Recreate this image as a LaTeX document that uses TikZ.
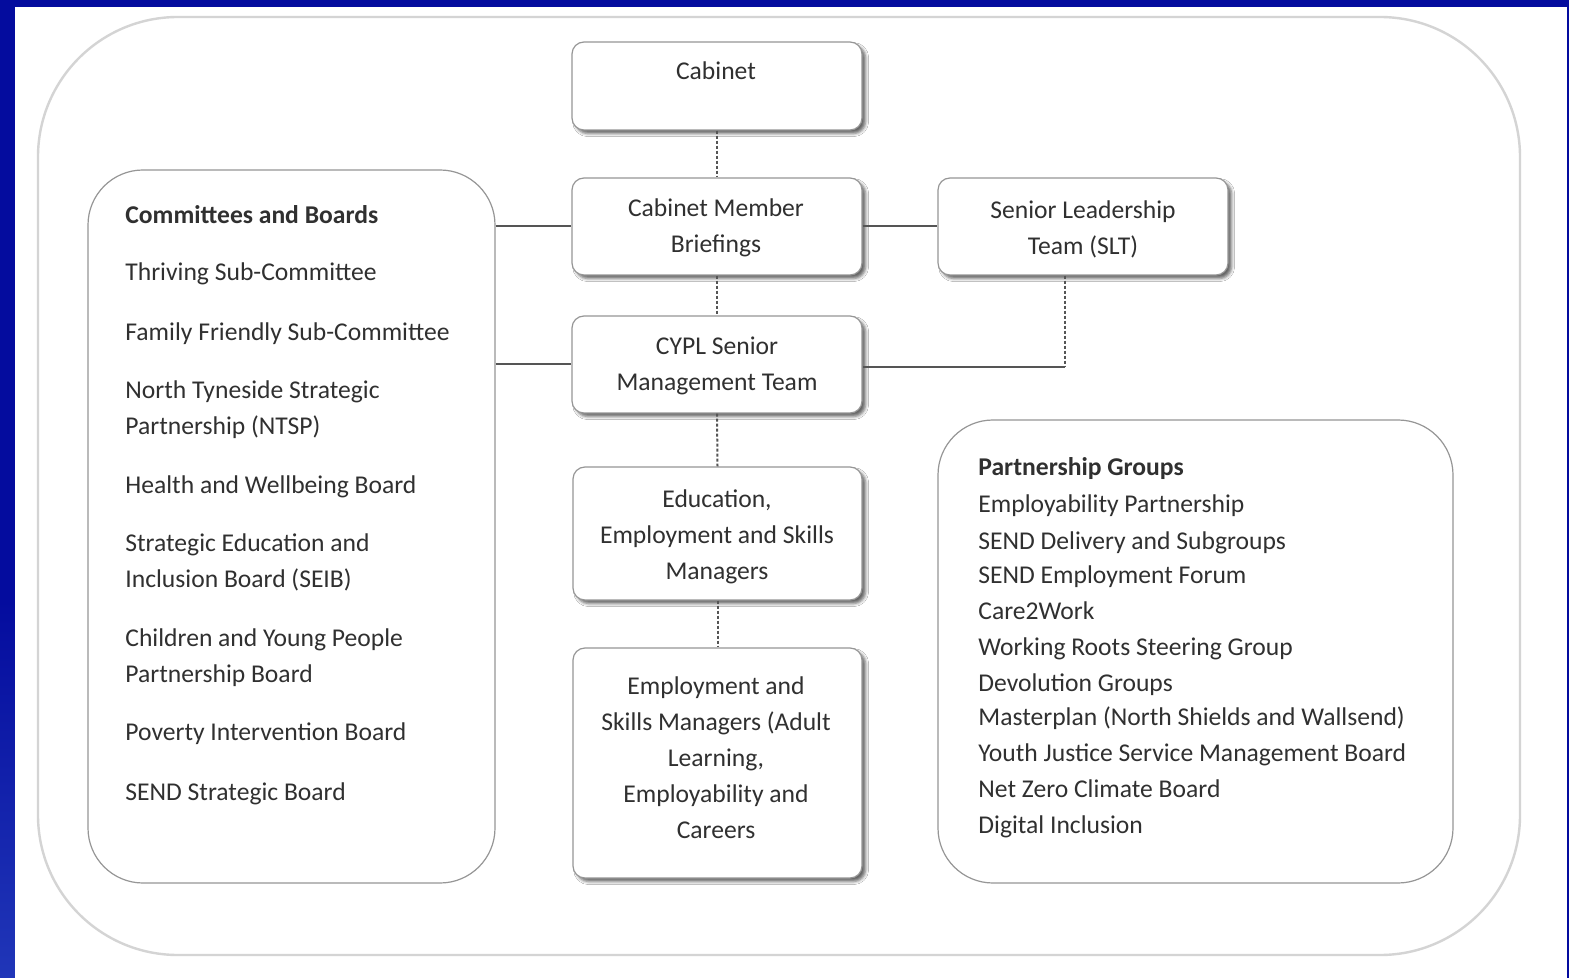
\documentclass[tikz,border=0pt]{standalone}
\usepackage{fontspec}
\setmainfont{Carlito}
\usetikzlibrary{shadows.blur}
\definecolor{bgblue}{RGB}{4,12,158}
\definecolor{bgblue2}{RGB}{32,54,184}
\definecolor{txt}{RGB}{48,48,48}
\definecolor{outerline}{RGB}{212,212,212}
\definecolor{boxline}{RGB}{150,150,150}
\definecolor{connline}{RGB}{85,85,85}
\begin{document}
\begin{tikzpicture}[x=0.5pt,y=-0.5pt,
  box/.style={draw=boxline, line width=0.6pt, fill=white, rounded corners=6pt, inner sep=0pt,
    blur shadow={shadow xshift=1.8pt, shadow yshift=-1.8pt, shadow blur radius=1.5pt, shadow opacity=60}},
  bigbox/.style={draw=boxline, line width=0.6pt, rounded corners=27.5pt, inner sep=0pt},
  boxtext/.style={text=txt, font=\fontsize{12.8}{18}\selectfont, align=center, inner sep=0pt},
  listtext/.style={text=txt, font=\fontsize{12.8}{18}\selectfont, anchor=mid west, inner sep=0pt},
  conn/.style={draw=connline, line width=1pt},
  dconn/.style={draw=connline, line width=1pt, dash pattern=on 1.5pt off 1pt},
]
\useasboundingbox (0,0) rectangle (1569,978);
\fill[bgblue] (0,0) rectangle (1569,978);
\shade[top color=bgblue, bottom color=bgblue2] (0,600) rectangle (15,978);
\fill[white] (15,7) rectangle (1567,978);
% outer frame
\draw[outerline, line width=1.2pt, rounded corners=70pt] (38,17) rectangle (1520,955);

% big boxes
\node[bigbox, minimum width=203.5pt, minimum height=356.5pt] (cab) at (291.5,526.5) {};
\node[bigbox, minimum width=257.5pt, minimum height=231.5pt] (pg) at (1195.5,651.5) {};

% central boxes
\node[box, minimum width=145pt, minimum height=44pt] (cabinet) at (717,86) {};
\node[box, minimum width=145pt, minimum height=48.5pt] (cmb) at (717,226.5) {};
\node[box, minimum width=145pt, minimum height=48.5pt] (slt) at (1083,226.5) {};
\node[box, minimum width=145pt, minimum height=48.5pt] (cypl) at (717,364.5) {};
\node[box, minimum width=144.5pt, minimum height=66.5pt] (edu) at (717.5,533.5) {};
\node[box, minimum width=144.5pt, minimum height=115pt] (emp) at (717.5,763) {};

% central texts
\node[boxtext] (t-cabinet) at (716,71) {Cabinet};
\node[boxtext] (t-cmb) at (716,228) {Cabinet Member\\Briefings};
\node[boxtext] (t-slt) at (1083,229) {Senior Leadership\\Team (SLT)};
\node[boxtext] (t-cypl) at (717,366) {CYPL Senior\\Management Team};
\node[boxtext] (t-edu) at (717,537) {Education,\\Employment and Skills\\Managers};
\node[boxtext] (t-emp) at (716,758) {Employment and\\Skills Managers (Adult\\Learning,\\Employability and\\Careers};

% committees list
\node[listtext, font=\fontsize{12.8}{18}\selectfont\bfseries] (c0) at (125,219) {Committees and Boards};
\node[listtext] (c1) at (125,276) {Thriving Sub-Committee};
\node[listtext] (c2) at (125,336) {Family Friendly Sub-Committee};
\node[listtext] (c3) at (125,394) {North Tyneside Strategic};
\node[listtext] (c3b) at (125,430) {Partnership (NTSP)};
\node[listtext] (c4) at (125,489) {Health and Wellbeing Board};
\node[listtext] (c5) at (125,547) {Strategic Education and};
\node[listtext] (c5b) at (125,583) {Inclusion Board (SEIB)};
\node[listtext] (c6) at (125,642) {Children and Young People};
\node[listtext] (c6b) at (125,678) {Partnership Board};
\node[listtext] (c7) at (125,736) {Poverty Intervention Board};
\node[listtext] (c8) at (125,796) {SEND Strategic Board};

% partnership list
\node[listtext, font=\fontsize{12.8}{18}\selectfont\bfseries] (p0) at (978,471) {Partnership Groups};
\node[listtext] (p1) at (978,508) {Employability Partnership};
\node[listtext] (p2) at (978,545) {SEND Delivery and Subgroups};
\node[listtext] (p3) at (978,579) {SEND Employment Forum};
\node[listtext] (p4) at (978,615) {Care2Work};
\node[listtext] (p5) at (978,651) {Working Roots Steering Group};
\node[listtext] (p6) at (978,687) {Devolution Groups};
\node[listtext] (p7) at (978,721) {Masterplan (North Shields and Wallsend)};
\node[listtext] (p8) at (978,757) {Youth Justice Service Management Board};
\node[listtext] (p9) at (978,793) {Net Zero Climate Board};
\node[listtext] (p10) at (978,829) {Digital Inclusion};

% connectors
\coordinate (bend) at (1065,367);
\draw[dconn] (cabinet.south) -- (cmb.north);
\draw[dconn] (cmb.south) -- (cypl.north);
\draw[dconn] (cypl.south) -- (edu.north);
\draw[dconn] (edu.south) -- (emp.north);
\draw[conn] (cab.east |- cmb.west) -- (cmb.west);
\draw[conn] (cab.east |- cypl.west) -- (cypl.west);
\draw[conn] (cmb.east) -- (slt.west);
\draw[dconn] (slt.south -| bend) -- (bend);
\draw[conn] (bend) -- (cypl.east |- bend);
\end{tikzpicture}
\end{document}
